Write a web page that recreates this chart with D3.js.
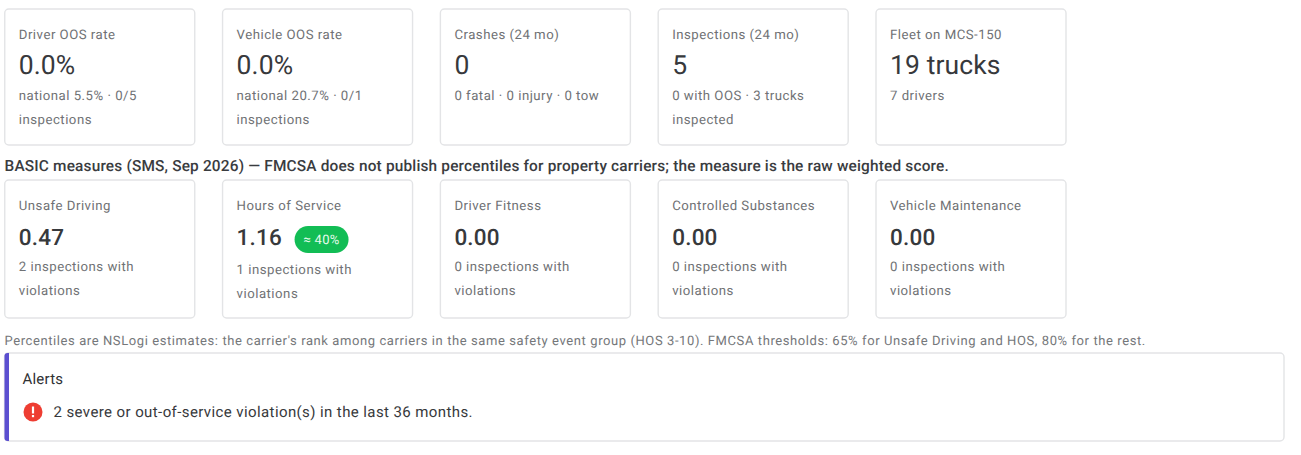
<!DOCTYPE html>
<html><head><meta charset="utf-8">
<script src="https://cdn.jsdelivr.net/npm/d3@7"></script>
<style>
html,body{margin:0;padding:0;background:#fff}
svg{display:block}
text{font-family:Roboto,sans-serif;font-kerning:normal;text-rendering:geometricPrecision}
</style></head><body><div id="chart"></div>
<script>
const topLabels=["Driver OOS rate","Vehicle OOS rate","Crashes (24 mo)","Inspections (24 mo)","Fleet on MCS-150"];
const topValues=["0.0%","0.0%","0","5","19 trucks"];
const topSubs=[["national 5.5% · 0/5","inspections"],["national 20.7% · 0/1","inspections"],["0 fatal · 0 injury · 0 tow"],["0 with OOS · 3 trucks","inspected"],["7 drivers"]];
const basicLabels=["Unsafe Driving","Hours of Service","Driver Fitness","Controlled Substances","Vehicle Maintenance"];
const basicValues=[0.47,1.16,0,0,0];
const basicSubs=[["2 inspections with","violations"],["1 inspections with","violations"],["0 inspections with","violations"],["0 inspections with","violations"],["0 inspections with","violations"]];
const basicBadges=[null,"≈ 40%",null,null,null];
const headingText="BASIC measures (SMS, Sep 2026) — FMCSA does not publish percentiles for property carriers; the measure is the raw weighted score.";
const noteText="Percentiles are NSLogi estimates: the carrier's rank among carriers in the same safety event group (HOS 3-10). FMCSA thresholds: 65% for Unsafe Driving and HOS, 80% for the rest.";
const alertTitle="Alerts";
const alertText="2 severe or out-of-service violation(s) in the last 36 months.";

const W=1301,H=455,cardW=190;
const svg=d3.select("#chart").append("svg").attr("width",W).attr("height",H).attr("viewBox",`0 0 ${W} ${H}`);
const x=d3.scaleLinear().domain([0,4]).range([4.75,876]);

function drawCards(labels,values,subs,top,h,valueStyle,subStart,badges){
  const g=svg.append("g").selectAll("g").data(labels).join("g")
    .attr("transform",(d,i)=>`translate(${x(i)},${top})`);
  g.append("rect").attr("width",cardW).attr("height",h).attr("rx",4)
    .attr("fill","#fff").attr("stroke","#e3e4e6").attr("stroke-width",1.4);
  g.append("text").attr("x",14).attr("y",30).text(d=>d)
    .attr("font-size",13.2).attr("letter-spacing",0.5).attr("fill","#6f7174");
  g.append("text").attr("x",14).attr("y",valueStyle.y).text((d,i)=>values[i])
    .attr("font-size",valueStyle.size).attr("font-weight",valueStyle.weight)
    .attr("letter-spacing",valueStyle.ls).attr("fill","#37393c");
  g.each(function(d,i){
    const s=d3.select(this);
    const b=badges&&badges[i];
    subs[i].forEach((line,k)=>{
      s.append("text").attr("x",14).attr("y",(b?subStart+3.5:subStart)+k*24).text(line)
        .attr("font-size",13.2).attr("letter-spacing",0.5).attr("fill","#707275");
    });
    if(b){
      s.append("rect").attr("x",72).attr("y",46).attr("width",54).attr("height",27).attr("rx",13.5).attr("fill","#12bd55");
      s.append("text").attr("x",99).attr("y",64).attr("text-anchor","middle").text(b)
        .attr("font-size",13).attr("letter-spacing",0.3).attr("fill","#e6fbee");
    }
  });
}
drawCards(topLabels,topValues,topSubs,9,136,{y:65,size:26.5,weight:400,ls:0.1},90.7,null);
svg.append("text").attr("x",4.5).attr("y",171).text(headingText)
  .attr("font-size",15.4).attr("font-weight",500).attr("letter-spacing",0.18).attr("fill","#3a3c3f");
drawCards(basicLabels,basicValues.map(d=>d3.format(".2f")(d)),basicSubs,180,138,{y:64.5,size:22.5,weight:500,ls:0.2},90.7,basicBadges);
svg.append("text").attr("x",4.5).attr("y",345).text(noteText)
  .attr("font-size",13).attr("letter-spacing",0.59).attr("fill","#75777a");

// alert box
const ag=svg.append("g").attr("transform","translate(4.5,353)");
ag.append("rect").attr("width",1279.5).attr("height",88).attr("rx",4).attr("fill","#fff").attr("stroke","#e3e4e6").attr("stroke-width",1.4);
ag.append("path").attr("d","M4.5,0 H3 A3,3 0 0 0 0,3 V85 A3,3 0 0 0 3,88 H4.5 Z").attr("fill","#5b4fd0");
ag.append("text").attr("x",18).attr("y",31).text(alertTitle).attr("font-size",15).attr("font-weight",400).attr("letter-spacing",0.2).attr("fill","#2f3134");
ag.append("circle").attr("cx",28.5).attr("cy",59).attr("r",9.5).attr("fill","#ee3d32");
ag.append("rect").attr("x",27.4).attr("y",53.5).attr("width",2.2).attr("height",7).attr("fill","#fff");
ag.append("rect").attr("x",27.4).attr("y",62).attr("width",2.2).attr("height",2.2).attr("fill","#fff");
ag.append("text").attr("x",49).attr("y",64).text(alertText).attr("font-size",15).attr("letter-spacing",0.4).attr("fill","#37393c");
</script></body></html>
